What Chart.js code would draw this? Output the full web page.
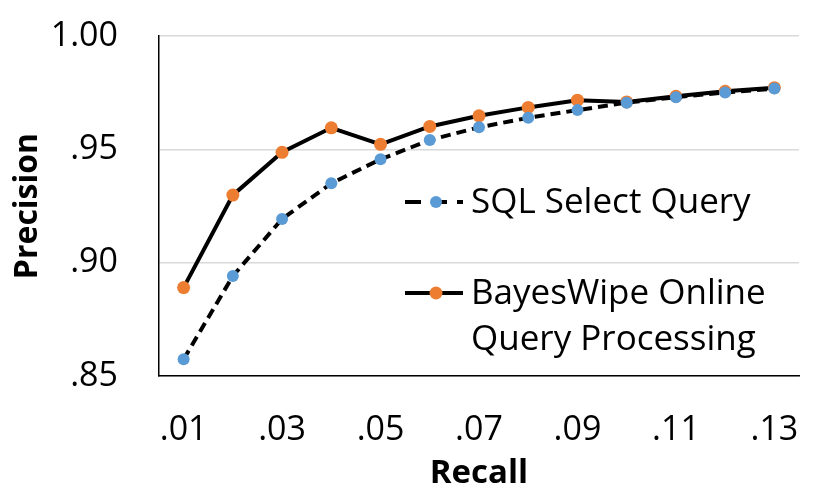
<!DOCTYPE html>
<html>
<head>
<meta charset="utf-8">
<script src="https://cdn.jsdelivr.net/npm/chart.js@4.4.1/dist/chart.umd.min.js"></script>
<style>
html,body{margin:0;padding:0;background:#fff;}
#wrap{width:830px;height:498px;}
</style>
</head>
<body>
<div id="wrap"><canvas id="c" width="830" height="498"></canvas></div>
<script>
const categories = ['.01','.02','.03','.04','.05','.06','.07','.08','.09','.10','.11','.12','.13'];
const sqlSelect = [0.8574,0.8941,0.9193,0.9350,0.9456,0.9541,0.9597,0.9639,0.9673,0.9706,0.9730,0.9751,0.9768];
const bayesWipe = [0.8890,0.9298,0.9487,0.9595,0.9522,0.9601,0.9648,0.9685,0.9717,0.9709,0.9734,0.9756,0.9772];
const yTicks = [0.85,0.90,0.95,1.00];
const yTickLabels = ['.85','.90','.95','1.00'];
const legendSql = ['SQL Select Query'];
const legendBayes = ['BayesWipe Online','Query Processing'];

const FONT = '"Open Sans", Lato, sans-serif';

const insideLegend = {
  id: 'insideLegend',
  afterDraw(chart) {
    const ctx = chart.ctx;
    const items = [
      {ds: chart.data.datasets[0], lines: legendSql, y: 202, dash: [16, 10]},
      {ds: chart.data.datasets[1], lines: legendBayes, y: 293, dash: []}
    ];
    ctx.save();
    items.forEach(it => {
      const x0 = 405, x1 = 463, xm = 436;
      ctx.strokeStyle = it.ds.borderColor;
      ctx.lineWidth = it.ds.borderWidth;
      ctx.lineCap = 'butt';
      ctx.setLineDash(it.dash);
      ctx.beginPath();
      ctx.moveTo(x0, it.y);
      ctx.lineTo(x1, it.y);
      ctx.stroke();
      ctx.setLineDash([]);
      ctx.fillStyle = it.ds.pointBackgroundColor;
      ctx.beginPath();
      ctx.arc(xm, it.y, it.ds.pointRadius, 0, Math.PI * 2);
      ctx.fill();
      ctx.fillStyle = '#000';
      ctx.font = '35px ' + FONT;
      ctx.textBaseline = 'middle';
      ctx.textAlign = 'left';
      it.lines.forEach((t, i) => ctx.fillText(t, 471, it.y + 1 + i * 46));
    });
    ctx.restore();
  }
};

new Chart(document.getElementById('c'), {
  type: 'line',
  data: {
    labels: categories,
    datasets: [
      {
        label: legendSql.join(' '),
        data: sqlSelect,
        borderColor: '#000000',
        borderWidth: 4,
        borderDash: [10, 6],
        pointBackgroundColor: '#5B9BD5',
        pointBorderColor: '#5B9BD5',
        pointRadius: 6,
        pointBorderWidth: 0,
        tension: 0,
        fill: false
      },
      {
        label: legendBayes.join(' '),
        data: bayesWipe,
        borderColor: '#000000',
        borderWidth: 4,
        pointBackgroundColor: '#ED7D31',
        pointBorderColor: '#ED7D31',
        pointRadius: 6.5,
        pointBorderWidth: 0,
        tension: 0,
        fill: false
      }
    ]
  },
  options: {
    responsive: false,
    animation: false,
    devicePixelRatio: 1,
    layout: { padding: { top: 36, right: 31, left: 0, bottom: 0 } },
    plugins: { legend: { display: false }, tooltip: { enabled: false } },
    scales: {
      x: {
        type: 'category',
        offset: true,
        grid: { display: false, drawTicks: false },
        border: { display: true, color: '#000', width: 1.5 },
        ticks: {
          color: '#000',
          font: { family: FONT, size: 34 },
          padding: 34,
          autoSkip: false,
          maxRotation: 0,
          callback: function(v, i) { return i % 2 === 0 ? categories[i] : ''; }
        },
        title: { display: true, text: 'Recall', color: '#000', font: { family: FONT, size: 33, weight: 'bold' }, padding: { top: 0, bottom: 5 } },
        afterFit: s => { s.height = 122; s.paddingLeft = 0; s.paddingRight = 0; }
      },
      y: {
        min: 0.85,
        max: 1.00,
        grid: { color: '#d9d9d9', lineWidth: 1.5, drawTicks: false },
        border: { display: true, color: '#000', width: 1.5 },
        afterBuildTicks: s => { s.ticks = yTicks.map(v => ({ value: v })); },
        ticks: {
          color: '#000',
          font: { family: FONT, size: 34 },
          padding: 41,
          callback: function(v) { const i = yTicks.findIndex(t => Math.abs(t - v) < 1e-9); return i >= 0 ? yTickLabels[i] : ''; }
        },
        title: { display: true, text: 'Precision', color: '#000', font: { family: FONT, size: 32, weight: 'bold' }, padding: { top: 9, bottom: 0 } },
        afterFit: s => { s.width = 159; s.paddingTop = 0; s.paddingBottom = 0; }
      }
    }
  },
  plugins: [insideLegend]
});
</script>
</body>
</html>
